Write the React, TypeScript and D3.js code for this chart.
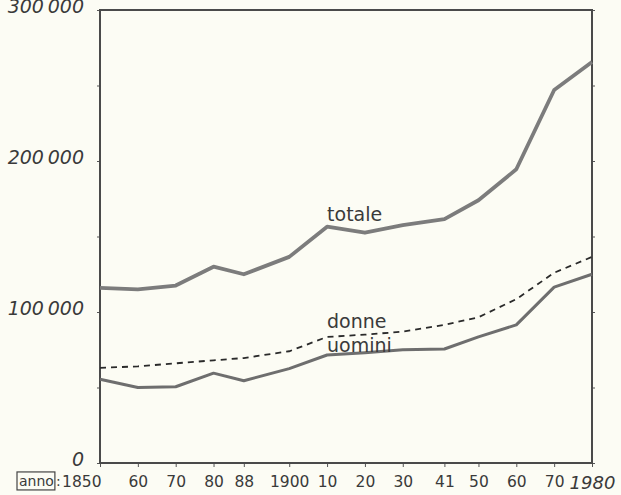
import React, { useEffect, useRef } from 'react';
import * as d3 from 'd3';

// census years and their printed labels
const years = [1850, 1860, 1870, 1880, 1888, 1900, 1910, 1920, 1930, 1941, 1950, 1960, 1970, 1980];
const yearLabels = ['1850', '60', '70', '80', '88', '1900', '10', '20', '30', '41', '50', '60', '70', '1980'];

const totale = [116000, 115000, 117500, 130000, 125000, 136500, 156500, 152500, 157500, 161500, 174000, 194500, 247000, 265500];
const donne = [63000, 64000, 66000, 68000, 69500, 74000, 83500, 85000, 87000, 91500, 96500, 108500, 126000, 136500];
const uomini = [55500, 50000, 50500, 59500, 54500, 62500, 71500, 73000, 75000, 75500, 83500, 91500, 116500, 125000];

const yTicks = [0, 50000, 100000, 150000, 200000, 250000, 300000];

const App = () => {
    const svgRef = useRef<SVGSVGElement>(null);

    useEffect(() => {
        const width = 621;
        const height = 495;
        const margin = { top: 10, right: 29, bottom: 32, left: 100 };
        const font = '"DejaVu Sans", sans-serif';

        const svg = d3.select(svgRef.current);
        svg.selectAll('*').remove();

        svg.append('rect')
            .attr('width', width)
            .attr('height', height)
            .attr('fill', '#fcfcf4');

        const x = d3.scaleLinear()
            .domain([1850, 1980])
            .range([margin.left, width - margin.right]);

        const y = d3.scaleLinear()
            .domain([0, 300000])
            .range([height - margin.bottom, margin.top]);

        const fmt = (d: number) => d3.format(',')(d).replace(/,/g, '\u2009');

        // left axis
        const left = svg.append('g')
            .attr('transform', `translate(${margin.left},0)`)
            .call(d3.axisLeft(y)
                .tickValues(yTicks)
                .tickSize(3)
                .tickPadding(13)
                .tickFormat(d => (+d % 100000 === 0 ? fmt(+d) : '')));
        left.select('.domain').remove();
        left.selectAll('line').attr('stroke', '#555');
        left.selectAll('text')
            .attr('dy', '0.12em')
            .style('font-family', font)
            .style('font-style', 'italic')
            .style('font-size', '19px')
            .attr('fill', '#3a3a3a');

        // right axis, ticks only
        const right = svg.append('g')
            .attr('transform', `translate(${width - margin.right},0)`)
            .call(d3.axisRight(y).tickValues(yTicks).tickSize(3).tickFormat(() => ''));
        right.select('.domain').remove();
        right.selectAll('line').attr('stroke', '#555');

        // bottom axis
        const bottom = svg.append('g')
            .attr('transform', `translate(0,${height - margin.bottom})`)
            .call(d3.axisBottom(x)
                .tickValues(years)
                .tickSize(4)
                .tickPadding(9)
                .tickFormat((d, i) => yearLabels[i]));
        bottom.select('.domain').remove();
        bottom.selectAll('line').attr('stroke', '#555');
        bottom.selectAll('text')
            .style('font-family', font)
            .style('font-size', '15.5px')
            .attr('fill', '#3a3a3a');
        bottom.selectAll('text')
            .filter((d, i) => i === 0)
            .attr('text-anchor', 'end')
            .attr('dx', '1');
        bottom.selectAll('text')
            .filter((d, i) => i === years.length - 1)
            .style('font-style', 'italic')
            .style('font-size', '18px');

        // "anno" box
        const annoY = height - margin.bottom + 4 + 9;
        const anno = svg.append('text')
            .attr('x', 19)
            .attr('y', annoY)
            .attr('dy', '0.71em')
            .style('font-family', font)
            .style('font-size', '14px')
            .attr('fill', '#3a3a3a')
            .text('anno');
        const bb = (anno.node() as SVGTextElement).getBBox();
        svg.append('rect')
            .attr('x', bb.x - 2)
            .attr('y', bb.y - 1)
            .attr('width', bb.width + 3)
            .attr('height', bb.height + 2)
            .attr('fill', 'none')
            .attr('stroke', '#444')
            .attr('stroke-width', 1.2);
        svg.append('text')
            .attr('x', bb.x + bb.width + 2)
            .attr('y', annoY)
            .attr('dy', '0.71em')
            .style('font-family', font)
            .style('font-size', '14px')
            .attr('fill', '#3a3a3a')
            .text(':');

        // frame
        svg.append('rect')
            .attr('x', margin.left)
            .attr('y', margin.top)
            .attr('width', width - margin.left - margin.right)
            .attr('height', height - margin.top - margin.bottom)
            .attr('fill', 'none')
            .attr('stroke', '#4a4a4a')
            .attr('stroke-width', 2);

        const line = d3.line<number>()
            .x((d, i) => x(years[i]))
            .y(d => y(d));

        svg.append('path')
            .datum(totale)
            .attr('d', line)
            .attr('fill', 'none')
            .attr('stroke', '#7c7c7c')
            .attr('stroke-width', 3.8)
            .attr('stroke-linejoin', 'round');

        svg.append('path')
            .datum(uomini)
            .attr('d', line)
            .attr('fill', 'none')
            .attr('stroke', '#6e6e6e')
            .attr('stroke-width', 3)
            .attr('stroke-linejoin', 'round');

        svg.append('path')
            .datum(donne)
            .attr('d', line)
            .attr('fill', 'none')
            .attr('stroke', '#2a2a2a')
            .attr('stroke-width', 1.8)
            .attr('stroke-dasharray', '6,5');

        // series labels
        const labels = [
            { name: 'totale', values: totale, dy: -12 },
            { name: 'donne', values: donne, dy: -7 },
            { name: 'uomini', values: uomini, dy: -1 },
        ];
        labels.forEach(l => {
            svg.append('text')
                .attr('x', x(1910))
                .attr('y', y(l.values[7]) + l.dy)
                .style('font-family', font)
                .style('font-size', '19px')
                .attr('fill', '#3a3a3a')
                .text(l.name);
        });
    }, []);

    return (
        <div style={{ position: 'absolute', left: 0, top: 0, width: 621, height: 495 }}>
            <svg ref={svgRef} width={621} height={495} style={{ display: 'block' }}></svg>
        </div>
    );
};

export default App;
